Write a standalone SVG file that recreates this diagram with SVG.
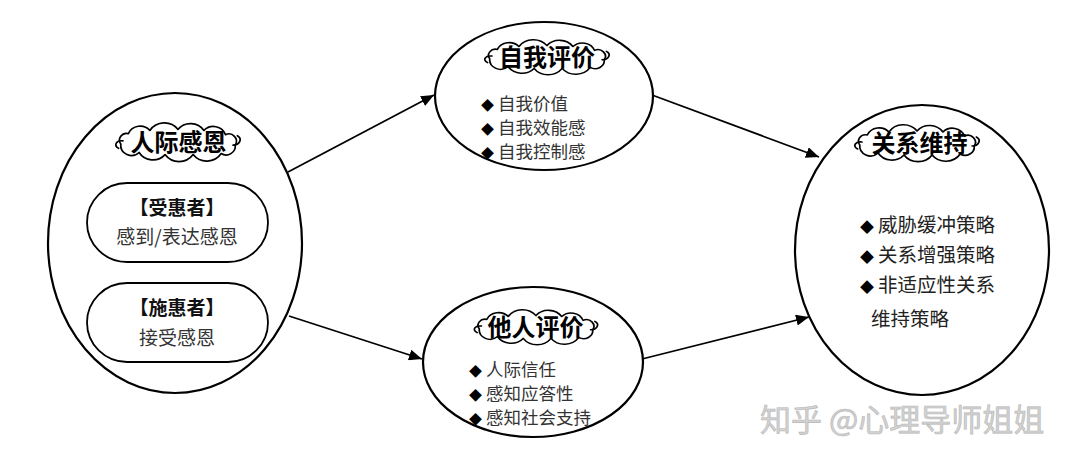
<svg xmlns="http://www.w3.org/2000/svg" width="1080" height="464" viewBox="0 0 1080 464">
<style>
.ell{fill:#fff;stroke:#000;stroke-width:2.2}
.pill{fill:#fff;stroke:#000;stroke-width:1.8}
.cloud{fill:#fff;stroke:#000;stroke-width:1.6;stroke-linejoin:round}
.curl{fill:none;stroke:#000;stroke-width:1.6;stroke-linecap:round}
text{font-family:"Noto Sans CJK SC","Microsoft YaHei",sans-serif}
.ttl{font-size:24px;font-weight:700;fill:#000;text-anchor:middle}
.sub{font-size:19px;font-weight:700;fill:#111;text-anchor:middle}
.reg{font-size:19px;fill:#333;text-anchor:middle}
.b1{font-size:17.5px;fill:#333}
.b2{font-size:19.5px;fill:#222}
.dia{font-size:13px;fill:#000}
.dia2{font-size:14px;fill:#000}
.wm{font-size:31px;fill:#d2d2d2;stroke:#b8b8b8;stroke-width:0.6}
.conn{stroke:#000;stroke-width:1.8;fill:none}
</style>
<defs>
<marker id="ah" markerWidth="13" markerHeight="11" refX="13" refY="5.5" orient="auto" markerUnits="userSpaceOnUse">
<path d="M0,0 L13,5.5 L0,11 Z" fill="#000"/>
</marker>
<g id="cloud">
<path class="cloud" d="M-53,2 A6.5,6.5 0 0 1 -46,-8 A12,12 0 0 1 -26,-11 A16,16 0 0 1 0,-12 A15,15 0 0 1 24,-11 A12,12 0 0 1 44,-7 A7,7 0 0 1 53,3 A8.5,8.5 0 0 1 40,11 A16,16 0 0 1 14,12 A16,16 0 0 1 -12,12 A15,15 0 0 1 -36,10 A10,10 0 0 1 -53,2 Z"/>
<path class="curl" d="M-51,-1 C-57,-2 -60,3 -55,6"/>
<path class="curl" d="M51,3 C57,3 60,-3 55,-6"/>
</g>
</defs>
<rect width="1080" height="464" fill="#fff"/>

<g id="connectors">
<line class="conn" x1="288" y1="172" x2="434" y2="95" marker-end="url(#ah)"/>
<line class="conn" x1="652" y1="95" x2="819" y2="157" marker-end="url(#ah)"/>
<line class="conn" x1="289" y1="316" x2="422" y2="359" marker-end="url(#ah)"/>
<line class="conn" x1="642" y1="359" x2="809" y2="317" marker-end="url(#ah)"/>
</g>

<g id="node-gratitude">
<ellipse class="ell" cx="175" cy="243" rx="127" ry="150"/>
<use href="#cloud" transform="translate(178,142) scale(1.08,1.05)"/>
<text class="ttl" x="178.5" y="151">人际感恩</text>
<rect class="pill" x="87" y="183" width="181" height="79" rx="40" ry="39.5"/>
<text class="sub" x="177" y="215">【受惠者】</text>
<text class="reg" x="177" y="244">感到/表达感恩</text>
<rect class="pill" x="87" y="283" width="181" height="79" rx="40" ry="39.5"/>
<text class="sub" x="177" y="315">【施惠者】</text>
<text class="reg" x="177" y="345">接受感恩</text>
</g>

<g id="node-self">
<ellipse class="ell" cx="544" cy="96" rx="109" ry="74"/>
<use href="#cloud" transform="translate(547,57) scale(1.08,0.95)"/>
<text class="ttl" x="547" y="66">自我评价</text>
<text class="b1" y="110"><tspan class="dia" x="481">◆</tspan><tspan x="498">自我价值</tspan></text>
<text class="b1" y="134"><tspan class="dia" x="481">◆</tspan><tspan x="498">自我效能感</tspan></text>
<text class="b1" y="158"><tspan class="dia" x="481">◆</tspan><tspan x="498">自我控制感</tspan></text>
</g>

<g id="node-other">
<ellipse class="ell" cx="533" cy="362" rx="110" ry="75"/>
<use href="#cloud" transform="translate(536,327) scale(1.07,0.95)"/>
<text class="ttl" x="535.5" y="336">他人评价</text>
<text class="b1" y="376"><tspan class="dia" x="469">◆</tspan><tspan x="486">人际信任</tspan></text>
<text class="b1" y="400"><tspan class="dia" x="469">◆</tspan><tspan x="486">感知应答性</tspan></text>
<text class="b1" y="424"><tspan class="dia" x="469">◆</tspan><tspan x="486">感知社会支持</tspan></text>
</g>

<g id="node-maintain">
<ellipse class="ell" cx="922" cy="250" rx="127" ry="145"/>
<use href="#cloud" transform="translate(917,143) scale(1.08,1.0)"/>
<text class="ttl" x="919.5" y="152">关系维持</text>
<text class="b2" y="232"><tspan class="dia2" x="860">◆</tspan><tspan x="878">威胁缓冲策略</tspan></text>
<text class="b2" y="262"><tspan class="dia2" x="860">◆</tspan><tspan x="878">关系增强策略</tspan></text>
<text class="b2" y="292"><tspan class="dia2" x="860">◆</tspan><tspan x="878">非适应性关系</tspan></text>
<text class="b2" x="871" y="326">维持策略</text>
</g>

<text class="wm" x="760" y="431">知乎 @心理导师姐姐</text>
</svg>
